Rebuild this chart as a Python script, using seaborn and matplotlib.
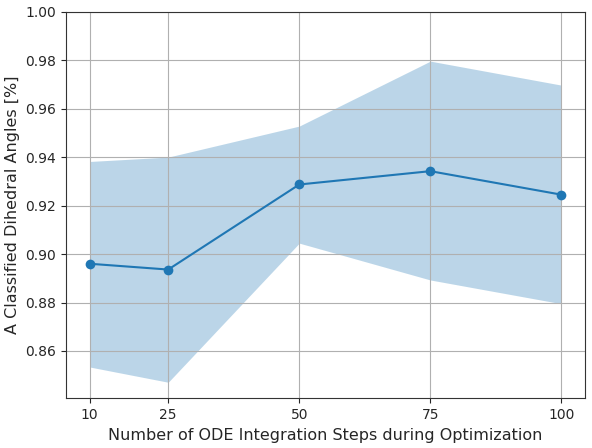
import matplotlib
matplotlib.use("Agg")
import matplotlib.pyplot as plt
import seaborn as sns
import pandas as pd

steps = [10, 25, 50, 75, 100]
mean_acc = [0.8960, 0.8936, 0.9287, 0.9342, 0.9245]
lower_acc = [0.8534, 0.8471, 0.9045, 0.8893, 0.8795]
upper_acc = [0.9382, 0.9400, 0.9528, 0.9796, 0.9697]

df = pd.DataFrame({"steps": steps, "mean": mean_acc})

sns.set_style("ticks")
fig = plt.figure(figsize=(5.92, 4.48), dpi=100)
ax = fig.add_axes([66/592, 1 - 398.3/448, (585 - 66)/592, (398.3 - 11.7)/448])

ax.fill_between(steps, lower_acc, upper_acc, color="C0", alpha=0.3, linewidth=0, zorder=0.4)
sns.lineplot(data=df, x="steps", y="mean", marker="o", color="C0", markersize=7,
             markeredgewidth=0, linewidth=1.5, ax=ax, zorder=3)

ax.set_xticks(steps)
ax.set_xticklabels([str(s) for s in steps])
ax.set_ylim(top=1.0)
ax.set_yticks([0.86, 0.88, 0.90, 0.92, 0.94, 0.96, 0.98, 1.00])
ax.set_yticklabels(["0.86", "0.88", "0.90", "0.92", "0.94", "0.96", "0.98", "1.00"])
ax.grid(True, color="#b0b0b0", linewidth=0.8)
ax.set_axisbelow(True)
ax.tick_params(labelsize=10, length=3.5, width=0.8)
for s in ax.spines.values():
    s.set_color("#333333")
    s.set_linewidth(0.8)
ax.set_xlabel("Number of ODE Integration Steps during Optimization", fontsize=11.5)
ax.set_ylabel("A Classified Dihedral Angles [%]", fontsize=11.5)

fig.savefig("out.png", dpi=100)
